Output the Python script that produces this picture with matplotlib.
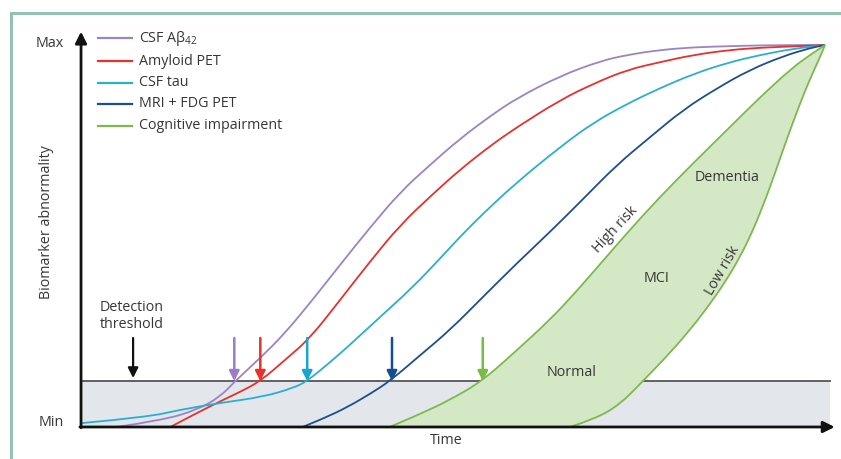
import matplotlib
matplotlib.use('Agg')
import matplotlib.pyplot as plt
from matplotlib.patches import Rectangle, PathPatch
from matplotlib.path import Path

plt.rcParams['font.family'] = ['Open Sans', 'DejaVu Sans']

# curves: time (0-100) vs biomarker abnormality (0-1)
abeta_t = [4.8, 11.0, 15.6, 18.7, 20.7, 24.1, 27.2, 30.8, 34.8, 38.8, 42.9, 46.9, 50.9,
           55.0, 58.6, 64.4, 69.8, 73.4, 77.8, 82.3, 87.2, 91.3, 96.6, 100]
abeta_y = [0, 0.018, 0.045, 0.079, 0.120, 0.181, 0.241, 0.325, 0.424, 0.521, 0.615, 0.686, 0.754,
           0.814, 0.861, 0.919, 0.958, 0.974, 0.987, 0.994, 0.997, 0.999, 1.0, 1.0]

amyloid_t = [12.0, 15.6, 19.1, 21.4, 24.1, 27.4, 30.8, 34.8, 38.8, 42.9, 47.3, 50.9, 55.0,
             58.6, 64.4, 68.8, 73.4, 77.8, 82.3, 87.2, 91.3, 96.6, 100]
amyloid_y = [0, 0.037, 0.071, 0.092, 0.120, 0.175, 0.233, 0.332, 0.432, 0.529, 0.610, 0.673, 0.736,
             0.785, 0.856, 0.898, 0.935, 0.955, 0.974, 0.987, 0.993, 0.997, 1.0]

tau_t = [0, 8.9, 13.3, 18.7, 24.5, 28.5, 30.4, 33.5, 35.8, 40.2, 44.6, 48.3, 50.9, 54.0,
         58.6, 64.4, 68.8, 73.4, 77.8, 82.3, 86.8, 91.3, 95.7, 100]
tau_y = [0.010, 0.026, 0.045, 0.063, 0.079, 0.102, 0.120, 0.170, 0.209, 0.288, 0.366, 0.442, 0.497, 0.558,
         0.641, 0.733, 0.796, 0.846, 0.887, 0.924, 0.953, 0.974, 0.990, 1.0]

mri_t = [29.8, 32.8, 35.8, 38.8, 41.5, 45.6, 49.6, 54.0, 58.6, 63.0, 67.5, 72.0, 76.5,
         80.9, 85.5, 89.9, 94.4, 98.0, 100]
mri_y = [0, 0.024, 0.052, 0.086, 0.120, 0.188, 0.254, 0.340, 0.429, 0.510, 0.597, 0.686, 0.759,
         0.830, 0.887, 0.935, 0.971, 0.992, 1.0]

high_t = [41.5, 45.6, 49.6, 53.9, 58.3, 63.0, 66.4, 69.8, 73.4, 77.8, 82.3, 86.8, 91.3,
          95.7, 98.0, 100]
high_y = [0, 0.034, 0.071, 0.120, 0.196, 0.280, 0.351, 0.427, 0.508, 0.602, 0.691, 0.777, 0.864,
          0.942, 0.974, 1.0]

low_t = [65.7, 69.1, 72.5, 75.5, 78.5, 81.6, 84.4, 86.6, 88.6, 90.2, 91.5, 92.7, 93.8, 94.9,
         96.1, 97.3, 98.4, 99.3, 100]
low_y = [0, 0.021, 0.060, 0.120, 0.180, 0.248, 0.318, 0.380, 0.446, 0.510, 0.571, 0.633, 0.694, 0.755,
         0.819, 0.879, 0.929, 0.967, 1.0]

threshold = 0.12
arrow_t = [20.6, 24.1, 30.4, 41.8, 54.0]

labels = ['CSF Aβ$_{\\mathregular{42}}$', 'Amyloid PET', 'CSF tau', 'MRI + FDG PET', 'Cognitive impairment']
colors = ['#9b84c6', '#e8302c', '#2aaed2', '#1d4f8f', '#7cb94e']
arrow_colors = ['#9b7cc8', '#e8302c', '#17a7cc', '#154d92', '#79bb45']


def smooth(t, y):
    # quadratic bezier through the midpoints, the read points act as controls
    pts = list(zip(t, y))
    verts = [pts[0]]
    codes = [Path.MOVETO]
    for i in range(1, len(pts) - 1):
        mid = ((pts[i][0] + pts[i + 1][0]) / 2, (pts[i][1] + pts[i + 1][1]) / 2)
        verts += [pts[i], mid]
        codes += [Path.CURVE3, Path.CURVE3]
    verts.append(pts[-1])
    codes.append(Path.LINETO)
    return verts, codes


fig = plt.figure(figsize=(8.41, 4.59), dpi=100)
ax = fig.add_axes([0, 0, 1, 1])
ax.set_xlim(-10.89, 102.15)
ax.set_ylim(-0.0838, 1.1178)
ax.axis('off')

# teal frame
fig.add_artist(Rectangle((11 / 841, -0.1), 1.2, 1.1 - 13 / 459, transform=fig.transFigure,
                         fill=False, edgecolor='#93c2b3', lw=2.2, clip_on=False))

# below-detection band
ax.fill_between([0, 100.7], 0, threshold, color='#e3e6ea', zorder=1, lw=0)
ax.plot([0, 100.7], [threshold, threshold], color='#555555', lw=1.3, zorder=2)

# cognitive impairment band
hv, hc = smooth(high_t, high_y)
lv, lc = smooth(low_t[::-1], low_y[::-1])
band = Path(hv + lv[1:] + [hv[0]], hc + lc[1:] + [Path.CLOSEPOLY])
ax.add_patch(PathPatch(band, facecolor='#d5e8c6', lw=0, zorder=3))

series = [(abeta_t, abeta_y), (amyloid_t, amyloid_y), (tau_t, tau_y), (mri_t, mri_y),
          (high_t, high_y), (low_t, low_y)]
for (t, y), c in zip(series, colors[:4] + [colors[4], colors[4]]):
    v, cd = smooth(t, y)
    ax.add_patch(PathPatch(Path(v, cd), facecolor='none', edgecolor=c, lw=1.3, zorder=4))

# axes with arrow heads
ax.annotate('', xy=(0, 1.035), xytext=(0, -0.002),
            arrowprops=dict(arrowstyle='-|>', color='#111111', lw=2, mutation_scale=17, shrinkA=0, shrinkB=0),
            zorder=6)
ax.annotate('', xy=(101.3, 0), xytext=(-0.15, 0),
            arrowprops=dict(arrowstyle='-|>', color='#111111', lw=2, mutation_scale=17, shrinkA=0, shrinkB=0),
            zorder=6)

# detection arrows
ax.annotate('', xy=(7.0, 0.128), xytext=(7.0, 0.233),
            arrowprops=dict(arrowstyle='-|>', color='#111111', lw=1.6, mutation_scale=15, shrinkA=0, shrinkB=0))
for t, c in zip(arrow_t, arrow_colors):
    ax.annotate('', xy=(t, threshold), xytext=(t, 0.233),
                arrowprops=dict(arrowstyle='-|>', color=c, lw=1.8, mutation_scale=15, shrinkA=0, shrinkB=0),
                zorder=7)

# legend
leg_y = [1.018, 0.958, 0.901, 0.846, 0.788]
for yy, lab, c in zip(leg_y, labels, colors):
    ax.plot([2.3, 6.85], [yy, yy], color=c, lw=1.6)
    ax.text(7.8, yy, lab, fontsize=10.3, color='#363636', va='center', ha='left')

txt = dict(color='#363636', fontsize=10.3)
ax.text(-2.3, 1.005, 'Max', ha='right', va='center', **txt)
ax.text(-2.3, 0.013, 'Min', ha='right', va='center', **txt)
ax.text(-4.6, 0.537, 'Biomarker abnormality', rotation=90, ha='center', va='center', **txt)
ax.text(2.5, 0.29, 'Detection\nthreshold', ha='left', va='center', linespacing=1.2, **txt)
ax.text(49.1, -0.036, 'Time', ha='center', va='center', **txt)
ax.text(66.0, 0.143, 'Normal', ha='center', va='center', **txt)
ax.text(77.4, 0.39, 'MCI', ha='center', va='center', **txt)
ax.text(86.8, 0.652, 'Dementia', ha='center', va='center', **txt)
ax.text(71.8, 0.518, 'High risk', rotation=47, ha='center', va='center', **txt)
ax.text(86.2, 0.41, 'Low risk', rotation=60, ha='center', va='center', **txt)

fig.savefig('out.png', dpi=100)
